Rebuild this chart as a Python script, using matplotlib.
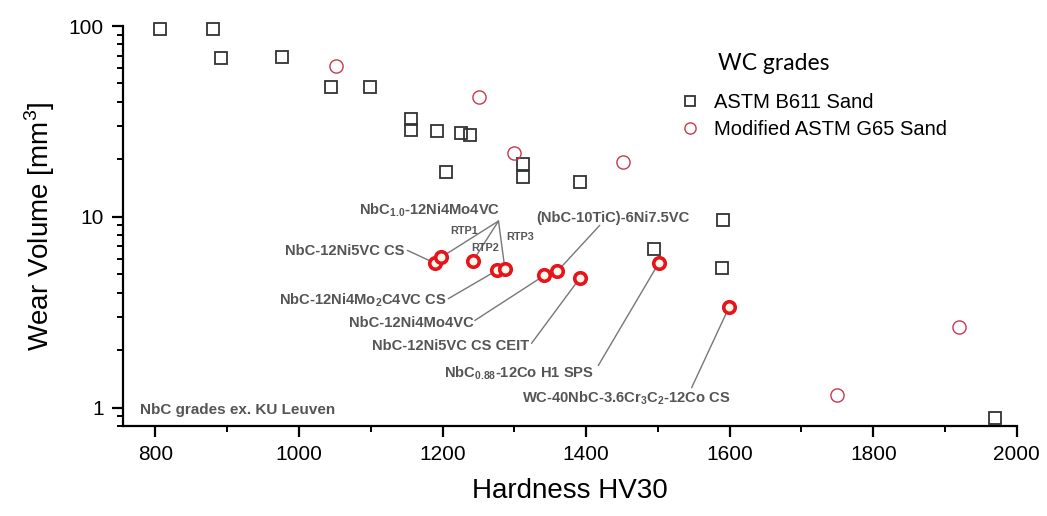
import matplotlib
matplotlib.use("Agg")
import matplotlib.pyplot as plt
from matplotlib.ticker import LogLocator, MultipleLocator, NullFormatter, FixedLocator
import numpy as np

plt.rcParams['font.family'] = ['Liberation Sans', 'DejaVu Sans']
plt.rcParams['mathtext.fontset'] = 'custom'
plt.rcParams['mathtext.rm'] = 'Liberation Sans'
plt.rcParams['mathtext.bf'] = 'Liberation Sans:bold'

# WC grades, ASTM B611 sand (squares)
b611_hv = [806, 880, 891, 977, 1044, 1099, 1156, 1156, 1192, 1226, 1238, 1205,
           1312, 1312, 1391, 1591, 1495, 1590, 1970]
b611_wv = [96.4, 96.4, 67.9, 68.7, 47.8, 47.8, 32.5, 28.5, 28.1, 27.4, 26.8, 17.1,
           18.9, 16.1, 15.2, 9.59, 6.75, 5.37, 0.886]

# WC grades, modified ASTM G65 sand (thin circles)
g65_hv = [1051, 1251, 1299, 1451, 1919, 1749]
g65_wv = [61.7, 42.4, 21.5, 19.3, 2.63, 1.16]

# NbC grades (bold circles)
nbc_hv = [1190, 1198, 1242, 1276, 1287, 1342, 1360, 1391, 1501, 1599]
nbc_wv = [5.70, 6.13, 5.84, 5.24, 5.30, 4.93, 5.18, 4.75, 5.70, 3.35]

fig = plt.figure(figsize=(10.47, 5.16), dpi=100)
ax = fig.add_axes([0.1175, 0.1744, 0.8537, 0.7752])

sq_col = '#333333'
g65_col = '#c8384f'
nbc_col = '#e8141c'

ax.plot(b611_hv, b611_wv, ls='none', marker='s', ms=8, mfc='none', mec=sq_col,
        mew=1.3, clip_on=False, label='ASTM B611 Sand')
ax.plot(g65_hv, g65_wv, ls='none', marker='o', ms=9.5, mfc='none', mec=g65_col,
        mew=1.0, clip_on=False, label='Modified ASTM G65 Sand')
ax.plot(nbc_hv, nbc_wv, ls='none', marker='o', ms=8.3, mfc='#fffbe8', mec=nbc_col,
        mew=2.6, clip_on=False, zorder=4)

ax.set_yscale('log')
ax.set_xlim(755, 2000)
ax.set_ylim(0.8, 100)

ax.xaxis.set_major_locator(MultipleLocator(200))
ax.xaxis.set_minor_locator(MultipleLocator(100))
ax.yaxis.set_major_locator(FixedLocator([1, 10, 100]))
ax.yaxis.set_minor_locator(LogLocator(base=10, subs=np.arange(2, 10)))
ax.yaxis.set_minor_formatter(NullFormatter())
ax.set_yticklabels(['1', '10', '100'])

for s in ['top', 'right']:
    ax.spines[s].set_visible(False)
for s in ['left', 'bottom']:
    ax.spines[s].set_linewidth(1.6)
ax.tick_params(which='major', direction='out', length=8, width=1.6, labelsize=15, pad=6)
ax.tick_params(which='minor', direction='out', length=4.5, width=1.4)

ax.set_xlabel('Hardness HV30', fontsize=20, labelpad=10)
ax.set_ylabel('Wear Volume [mm$^3$]', fontsize=20, labelpad=8)

# annotations for NbC grades
lab_col = '#555555'
line_col = '#777777'
fs = 10.6


def link(src, idx):
    ax.annotate('', xy=(nbc_hv[idx], nbc_wv[idx]), xytext=src,
                arrowprops=dict(arrowstyle='-', color=line_col, lw=1.0,
                                shrinkA=0, shrinkB=5))


ax.text(1182, 10.8, r'NbC$_{\mathbf{1.0}}$-12Ni4Mo4VC', fontsize=fs, fontweight='bold',
        color=lab_col, ha='center', va='center')
apex = (1278, 9.5)
for i in [1, 2, 4]:
    link(apex, i)
ax.text(1230, 8.4, 'RTP1', fontsize=7.8, fontweight='bold', color=lab_col, ha='center', va='center')
ax.text(1259, 6.85, 'RTP2', fontsize=7.8, fontweight='bold', color=lab_col, ha='center', va='center')
ax.text(1308, 7.8, 'RTP3', fontsize=7.8, fontweight='bold', color=lab_col, ha='center', va='center')

ax.text(1147, 6.59, 'NbC-12Ni5VC CS', fontsize=fs, fontweight='bold', color=lab_col,
        ha='right', va='center')
link((1151, 6.67), 0)

ax.text(1206, 3.65, r'NbC-12Ni4Mo$_{\mathbf{2}}$C4VC CS', fontsize=fs, fontweight='bold',
        color=lab_col, ha='right', va='center')
link((1208, 3.72), 3)

ax.text(1244, 2.76, 'NbC-12Ni4Mo4VC', fontsize=fs, fontweight='bold', color=lab_col,
        ha='right', va='center')
link((1245, 2.86), 5)

ax.text(1320, 2.09, 'NbC-12Ni5VC CS CEIT', fontsize=fs, fontweight='bold', color=lab_col,
        ha='right', va='center')
link((1324, 2.17), 7)

ax.text(1437, 9.82, '(NbC-10TiC)-6Ni7.5VC', fontsize=fs, fontweight='bold', color=lab_col,
        ha='center', va='center')
link((1419, 9.02), 6)

ax.text(1411, 1.51, r'NbC$_{\mathbf{0.88}}$-12Co H1 SPS', fontsize=fs, fontweight='bold',
        color=lab_col, ha='right', va='center')
link((1417, 1.66), 8)

ax.text(1456, 1.115, r'WC-40NbC-3.6Cr$_{\mathbf{3}}$C$_{\mathbf{2}}$-12Co CS', fontsize=fs,
        fontweight='bold', color=lab_col, ha='center', va='center')
link((1547, 1.27), 9)

ax.text(778, 0.976, 'NbC grades ex. KU Leuven', fontsize=11, fontweight='bold',
        color=lab_col, ha='left', va='center')

# legend (title placed as separate text, aligned with entry labels)
leg = ax.legend(loc='upper left', bbox_to_anchor=(678 / 1047, 1 - 93 / 516),
                bbox_transform=fig.transFigure, frameon=False, borderpad=0,
                borderaxespad=0, fontsize=14.5, handletextpad=0.6, handlelength=1.2,
                labelspacing=0.42, markerscale=0.85)
fig.text(718 / 1047, 1 - 63 / 516, 'WC grades', family='Lato', fontsize=16.5,
         ha='left', va='center')

fig.savefig('out.png', dpi=100)
